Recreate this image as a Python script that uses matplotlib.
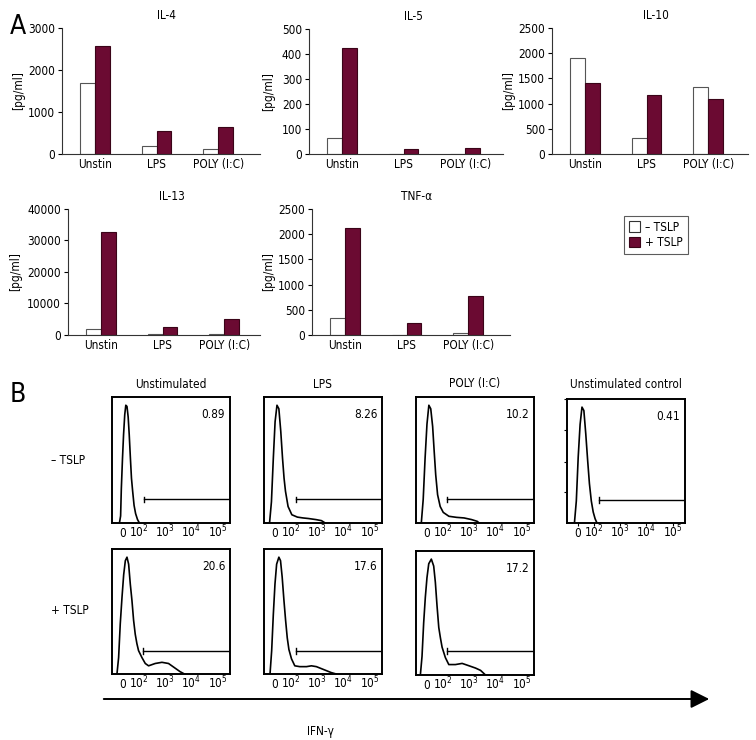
import numpy as np
import matplotlib
matplotlib.use('Agg')
import matplotlib.pyplot as plt
from matplotlib import font_manager as fm
from matplotlib.patches import Patch, FancyArrowPatch

# prefer a narrow / condensed face if one is installed, else Liberation Sans
narrow = [f for f in fm.fontManager.ttflist
          if ('narrow' in f.name.lower() or 'condensed' in f.name.lower()
              or str(f.stretch) in ('condensed', 'semi-condensed'))
          and f.style == 'normal' and f.weight in (400, 'normal', 'regular')]
if narrow:
    font_name = narrow[0].name
    plt.rcParams['font.stretch'] = narrow[0].stretch
else:
    font_name = 'Liberation Sans'
plt.rcParams['font.family'] = [font_name, 'DejaVu Sans']
plt.rcParams['mathtext.fontset'] = 'custom'
plt.rcParams['mathtext.rm'] = font_name
plt.rcParams['mathtext.default'] = 'regular'

# ---- panel A data (pg/ml) ----
categories = ['Unstin', 'LPS', 'POLY (I:C)']
il4_minus = [1700, 180, 130]
il4_plus = [2560, 550, 640]
il5_minus = [65, 0, 0]
il5_plus = [425, 22, 25]
il10_minus = [1910, 320, 1330]
il10_plus = [1400, 1180, 1090]
il13_minus = [1800, 200, 200]
il13_plus = [32700, 2600, 5000]
tnf_minus = [330, 0, 40]
tnf_plus = [2130, 240, 780]

il4_ticks = [0, 1000, 2000, 3000]
il5_ticks = [0, 100, 200, 300, 400, 500]
il10_ticks = [0, 500, 1000, 1500, 2000, 2500]
il13_ticks = [0, 10000, 20000, 30000, 40000]
tnf_ticks = [0, 500, 1000, 1500, 2000, 2500]

# ---- panel B data: IFN-g histograms (x on display scale 0-100, y in % of max) ----
flow_cols = ['Unstimulated', 'LPS', 'POLY (I:C)', 'Unstimulated control']
flow_rows = ['\u2013 TSLP', '+ TSLP']
tick_pos = [9.5, 22.5, 44.5, 67, 89.5]
tick_labels = ['$0$', '$10^2$', '$10^3$', '$10^4$', '$10^5$']

unst_minus_x = [6.3, 7.3, 7.9, 8.9, 9.8, 10.8, 11.7, 12.7, 13.7, 14.6, 15.6, 16.5, 17.5, 18.7, 20.0, 21.6, 23.2]
unst_minus_y = [0, 6, 29, 55, 75, 92, 100, 99, 90, 75, 55, 38, 27, 15, 8, 3, 0]
lps_minus_x = [4.7, 6.3, 7.9, 9.4, 11.0, 12.6, 14.2, 15.7, 17.0, 18.2, 20.4, 23.6, 28.3, 33.0, 37.7, 44.0, 48.7, 51.9]
lps_minus_y = [0, 18, 55, 86, 100, 97, 78, 55, 38, 27, 14, 7, 5, 4.3, 3.8, 2.9, 2, 0]
poly_minus_x = [4.5, 6.1, 7.7, 9.3, 10.9, 12.5, 14.1, 15.4, 16.7, 18.3, 20.5, 23.1, 27.9, 34.3, 40.7, 47.1, 51.9, 53.5]
poly_minus_y = [0, 20, 55, 84, 100, 97, 82, 61, 41, 24, 14, 9, 5.7, 4.8, 4.3, 2.9, 1.4, 0]
ctrl_x = [6.3, 7.9, 9.5, 11.1, 12.7, 14.3, 15.9, 17.5, 19.0, 20.6, 22.2, 23.8, 25.4]
ctrl_y = [0, 19, 57, 85, 100, 97, 77, 54, 34, 19, 9.5, 3.7, 0]
unst_plus_x = [4.2, 5.6, 7.0, 8.5, 9.9, 11.3, 12.7, 14.1, 15.5, 16.9, 18.3, 19.7, 21.1, 22.5,
               25.4, 28.2, 31.0, 36.6, 42.3, 47.9, 52.1, 54.9, 57.7, 61.4]
unst_plus_y = [0, 14, 43, 66, 85, 97, 100, 94, 77, 63, 46, 34, 26, 20, 14, 9, 7, 9, 10, 9, 6, 4, 2, 0]
lps_plus_x = [5.1, 6.5, 7.9, 9.3, 10.7, 12.6, 14.0, 15.4, 16.9, 18.3, 19.7, 21.1, 23.3, 26.1,
              30.3, 36.0, 40.2, 44.4, 48.6, 52.8, 57.0, 61.2]
lps_plus_y = [0, 20, 51, 77, 94, 100, 97, 83, 63, 46, 31, 21, 13, 7, 6.3, 6.3, 7, 6.3, 4.6, 2.9, 1.2, 0]
poly_plus_x = [3.7, 5.1, 6.5, 7.9, 9.3, 10.8, 13.0, 15.0, 16.4, 17.8, 19.3, 20.7, 22.1, 24.9,
               27.8, 33.4, 39.1, 44.8, 50.4, 54.7, 58.9]
poly_plus_y = [0, 16, 45, 67, 84, 96, 100, 94, 80, 60, 41, 32, 24, 15, 9, 9, 10, 8, 6, 4, 0]

gate_start = [27, 27, 26, 27, 26, 27, 26]
gate_level = [20, 20, 20, 20, 20, 20, 21]
percent_pos = ['0.89', '8.26', '10.2', '0.41', '20.6', '17.6', '17.2']

red = '#6b0a32'
fs = 8.5
W, H = 756, 740
fig = plt.figure(figsize=(W / 100, H / 100), dpi=100)


def box(l, t, r, b):
    return [l / W, 1 - b / H, (r - l) / W, (b - t) / H]


def bar_panel(rect, title, minus, plus, yticks, label_px):
    ax = fig.add_axes(box(*rect))
    x = np.arange(len(categories))
    ax.bar(x - 0.12, minus, 0.24, color='white', edgecolor='#555555', lw=0.8)
    ax.bar(x + 0.12, plus, 0.24, color=red, edgecolor='#3a0418', lw=0.8)
    ax.set_xlim(-0.54, -0.54 + (rect[2] - rect[0]) / 61.5)
    ax.set_ylim(0, yticks[-1])
    ax.set_yticks(yticks)
    ax.set_xticks(x, categories)
    ax.tick_params(axis='x', length=0, pad=3, labelsize=fs)
    ax.tick_params(axis='y', length=3, width=0.8, pad=2, labelsize=fs)
    for s in ['top', 'right']:
        ax.spines[s].set_visible(False)
    for s in ['left', 'bottom']:
        ax.spines[s].set_linewidth(0.8)
        ax.spines[s].set_color('#333333')
    ax.set_ylabel('[pg/ml]', fontsize=fs)
    ax.yaxis.set_label_coords((label_px - rect[0]) / (rect[2] - rect[0]), 0.5)
    x_title = (0.555 * 188) / (rect[2] - rect[0])
    ax.text(x_title, 1.10, title, transform=ax.transAxes, ha='center', va='center', fontsize=fs)
    return ax


bar_panel((62, 28, 260, 154), 'IL-4', il4_minus, il4_plus, il4_ticks, 25)
bar_panel((309, 29, 503, 154), 'IL-5', il5_minus, il5_plus, il5_ticks, 275)
bar_panel((552, 28, 748, 154), 'IL-10', il10_minus, il10_plus, il10_ticks, 515)
bar_panel((68, 209, 260, 335), 'IL-13', il13_minus, il13_plus, il13_ticks, 22)
bar_panel((312, 209, 510, 335), 'TNF-\u03b1', tnf_minus, tnf_plus, tnf_ticks, 275)

handles = [Patch(facecolor='white', edgecolor='#333333', lw=0.8, label='\u2013 TSLP'),
           Patch(facecolor=red, edgecolor='#3a0418', lw=0.8, label='+ TSLP')]
leg = fig.legend(handles=handles, loc='upper left', bbox_to_anchor=(618 / W, 1 - 210 / H),
                 fontsize=fs, frameon=True, fancybox=False, borderpad=0.4,
                 handlelength=1.0, handleheight=1.0, handletextpad=0.4, labelspacing=0.2)
leg.get_frame().set_edgecolor('#333333')
leg.get_frame().set_linewidth(0.8)

# ---- panel B ----
hist_x = [unst_minus_x, lps_minus_x, poly_minus_x, ctrl_x, unst_plus_x, lps_plus_x, poly_plus_x]
hist_y = [unst_minus_y, lps_minus_y, poly_minus_y, ctrl_y, unst_plus_y, lps_plus_y, poly_plus_y]
rects = [(112, 397, 230, 523), (264, 397, 382, 523), (416, 397, 534, 523), (567, 399, 685, 523),
         (112, 549, 230, 674), (264, 549, 382, 674), (416, 551, 534, 675)]

for i, rect in enumerate(rects):
    ax = fig.add_axes(box(*rect))
    ax.plot(hist_x[i], hist_y[i], color='black', lw=1.2)
    ax.plot([gate_start[i], 100], [gate_level[i], gate_level[i]], color='black', lw=1.0)
    ax.plot([gate_start[i], gate_start[i]], [gate_level[i] - 2.5, gate_level[i] + 2.5], color='black', lw=1.0)
    ax.text(86, 92, percent_pos[i], ha='center', va='center', fontsize=fs)
    ax.set_xlim(0, 100)
    ax.set_ylim(0, 107)
    ax.set_xticks(tick_pos, tick_labels)
    for lbl in ax.get_xticklabels():
        lbl.set_verticalalignment('baseline')
    if i == 3:
        ax.set_yticks([27, 53, 80, 107], [])
        ax.tick_params(axis='both', length=2, width=0.8, direction='out')
    else:
        ax.set_yticks([])
        ax.tick_params(axis='x', length=0)
    ax.tick_params(axis='x', labelsize=fs, pad=10 if i != 3 else 8)
    for s in ax.spines.values():
        s.set_linewidth(1.4)

for j, name in enumerate(flow_cols):
    l, t, r, b = rects[j]
    fig.text((l + r) / 2 / W, 1 - 384 / H, name, ha='center', va='center', fontsize=fs)

fig.text(68 / W, 1 - 460 / H, flow_rows[0], ha='center', va='center', fontsize=fs)
fig.text(70 / W, 1 - 610 / H, flow_rows[1], ha='center', va='center', fontsize=fs)

arrow = FancyArrowPatch((101 / W, 1 - 699 / H), (712 / W, 1 - 699 / H), transform=fig.transFigure,
                        arrowstyle='-|>,head_length=0.8,head_width=0.4', mutation_scale=14,
                        lw=1.4, color='black')
fig.add_artist(arrow)
fig.text(320 / W, 1 - 731 / H, 'IFN-\u03b3', ha='center', va='center', fontsize=fs)

fig.text(18 / W, 1 - 27 / H, 'A', ha='center', va='center', fontsize=19)
fig.text(18 / W, 1 - 395 / H, 'B', ha='center', va='center', fontsize=19)

fig.savefig('out.png', dpi=100)
